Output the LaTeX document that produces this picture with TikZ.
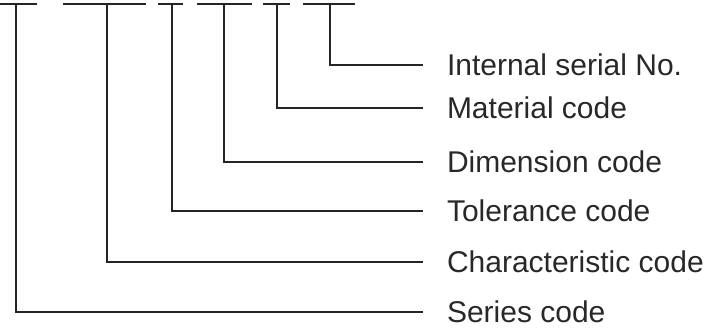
\documentclass[tikz,border=0pt]{standalone}
\usepackage{fontspec}
\setmainfont{Liberation Sans}
\usepackage{tikz}

\definecolor{codeline}{RGB}{34,38,40}
\definecolor{codetext}{RGB}{40,40,40}

\tikzset{
  codebar/.style={draw=codeline, line width=2.2pt},
  leader/.style={draw=codeline, line width=2pt},
  codelabel/.style={anchor=west, inner xsep=24pt, inner ysep=0pt, outer sep=0pt,
    text height=21pt, text depth=0pt, text=codetext,
    font=\fontsize{30}{36}\selectfont}
}

\begin{document}
\begin{tikzpicture}[x=1pt, y=-1pt]
   \useasboundingbox (0,0) rectangle (709,329);

   % underlines of the code fields
   \coordinate (f1a) at (0,4);   \coordinate (f1b) at (37,4);
   \coordinate (f2a) at (63,4);  \coordinate (f2b) at (146,4);
   \coordinate (f3a) at (158,4); \coordinate (f3b) at (183,4);
   \coordinate (f4a) at (197,4); \coordinate (f4b) at (252,4);
   \coordinate (f5a) at (263,4); \coordinate (f5b) at (290,4);
   \coordinate (f6a) at (303,4); \coordinate (f6b) at (355,4);

   \draw[codebar] (f1a) -- (f1b);
   \draw[codebar] (f2a) -- (f2b);
   \draw[codebar] (f3a) -- (f3b);
   \draw[codebar] (f4a) -- (f4b);
   \draw[codebar] (f5a) -- (f5b);
   \draw[codebar] (f6a) -- (f6b);

   % leader start points
   \coordinate (t1) at (16,4);
   \coordinate (t2) at (107,4);
   \coordinate (t3) at (172,4);
   \coordinate (t4) at (224,4);
   \coordinate (t5) at (277,4);
   \coordinate (t6) at (330,4);

   \node[codelabel] (serial)  at (423,65)  {Internal serial No.};
   \node[codelabel] (material) at (423,108) {Material code};
   \node[codelabel] (dimension) at (423,162) {Dimension code};
   \node[codelabel] (tolerance) at (423,211) {Tolerance code};
   \node[codelabel] (character) at (423,262) {Characteristic code};
   \node[codelabel] (series)  at (423,312) {Series code};

   \draw[leader] (t6) |- (serial.west);
   \draw[leader] (t5) |- (material.west);
   \draw[leader] (t4) |- (dimension.west);
   \draw[leader] (t3) |- (tolerance.west);
   \draw[leader] (t2) |- (character.west);
   \draw[leader] (t1) |- (series.west);
\end{tikzpicture}
\end{document}
